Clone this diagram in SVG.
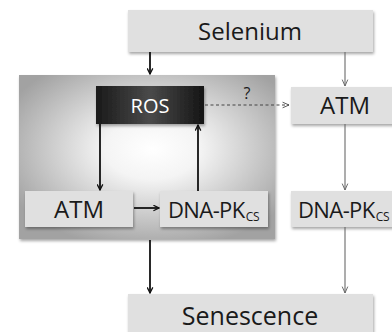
<svg xmlns="http://www.w3.org/2000/svg" width="392" height="332" viewBox="0 0 392 332">
  <defs>
    <radialGradient id="panelFill" cx="0.52" cy="0.45" r="0.62">
      <stop offset="0" stop-color="#ffffff"/>
      <stop offset="0.3" stop-color="#f4f4f4"/>
      <stop offset="1" stop-color="#a2a2a2"/>
    </radialGradient>
    <linearGradient id="rosFill" x1="0" y1="0" x2="1" y2="0">
      <stop offset="0" stop-color="#1a1a1a"/>
      <stop offset="0.5" stop-color="#4a4a4a"/>
      <stop offset="1" stop-color="#151515"/>
    </linearGradient>
    <filter id="shadow" x="-10%" y="-10%" width="120%" height="130%">
      <feDropShadow dx="1" dy="2" stdDeviation="1.5" flood-color="#000" flood-opacity="0.35"/>
    </filter>
    <marker id="headDark" viewBox="0 0 10 10" refX="9" refY="5" markerWidth="7" markerHeight="7" orient="auto" markerUnits="userSpaceOnUse">
      <path d="M1,1 L9,5 L1,9" fill="none" stroke="#111" stroke-width="1.8"/>
    </marker>
    <marker id="headGray" viewBox="0 0 10 10" refX="9" refY="5" markerWidth="8" markerHeight="8" orient="auto" markerUnits="userSpaceOnUse">
      <path d="M1,1.5 L9,5 L1,8.5" fill="none" stroke="#666" stroke-width="1.2"/>
    </marker>
    <marker id="headDash" viewBox="0 0 10 10" refX="9" refY="5" markerWidth="8" markerHeight="8" orient="auto" markerUnits="userSpaceOnUse">
      <path d="M1,1.5 L9,5 L1,8.5" fill="none" stroke="#444" stroke-width="1.1"/>
    </marker>
  </defs>
  <style>
    .box { fill: #e0e0e0; filter: url(#shadow); }
    .lbl { font-family: "Open Sans", "Liberation Sans", sans-serif; fill: #1a1a1a; text-anchor: middle; }
    .pk { font-family: "Open Sans", "Liberation Sans", sans-serif; fill: #1a1a1a; font-size: 22px; letter-spacing: -0.6px; }
    .sub { font-size: 12px; letter-spacing: -0.3px; }
    .dark { stroke: #111; stroke-width: 1.8; fill: none; marker-end: url(#headDark); }
    .gray { stroke: #6a6a6a; stroke-width: 1.1; fill: none; marker-end: url(#headGray); }
    .dash { stroke: #444; stroke-width: 1.1; fill: none; stroke-dasharray: 3 2.5; marker-end: url(#headDash); }
  </style>

  <rect width="392" height="332" fill="#ffffff"/>

  <!-- shaded feedback-loop panel -->
  <g id="loop-panel">
    <rect x="19" y="75" width="256" height="164" fill="url(#panelFill)" filter="url(#shadow)"/>
  </g>

  <g id="selenium">
    <rect class="box" x="128" y="10" width="245" height="42"/>
    <text class="lbl" x="250" y="40" font-size="24">Selenium</text>
  </g>

  <g id="ros">
    <rect x="96" y="86" width="108" height="38" fill="url(#rosFill)" filter="url(#shadow)"/>
    <text class="lbl" x="150" y="113" font-size="20" style="fill:#ffffff">ROS</text>
  </g>

  <g id="atm-loop">
    <rect class="box" x="25" y="191" width="108" height="36"/>
    <text class="lbl" x="79" y="218" font-size="24">ATM</text>
  </g>

  <g id="dnapk-loop">
    <rect class="box" x="160" y="191" width="108" height="36"/>
    <text class="pk" x="168" y="218">DNA-PK<tspan class="sub" dx="1" dy="3">CS</tspan></text>
  </g>

  <g id="atm-direct">
    <rect class="box" x="291" y="87" width="110" height="37"/>
    <text class="lbl" x="345" y="114" font-size="24">ATM</text>
  </g>

  <g id="dnapk-direct">
    <rect class="box" x="291" y="191" width="110" height="36"/>
    <text class="pk" x="298" y="218">DNA-PK<tspan class="sub" dx="1" dy="3">CS</tspan></text>
  </g>

  <g id="senescence">
    <rect class="box" x="128" y="294" width="245" height="45"/>
    <text class="lbl" x="250" y="325" font-size="25">Senescence</text>
  </g>

  <g id="connectors">
    <line class="dark" x1="150" y1="52" x2="150" y2="74"/>
    <line class="dark" x1="100" y1="124" x2="100" y2="190"/>
    <line class="dark" x1="198" y1="191" x2="198" y2="125"/>
    <line class="dark" x1="134" y1="208" x2="159" y2="208"/>
    <line class="dark" x1="150" y1="240" x2="150" y2="293"/>
    <line class="gray" x1="345" y1="52" x2="345" y2="86"/>
    <line class="gray" x1="345" y1="124" x2="345" y2="190"/>
    <line class="gray" x1="345" y1="227" x2="345" y2="293"/>
    <line class="dash" x1="205" y1="105" x2="289" y2="105"/>
    <text class="lbl" x="247" y="99" font-size="16">?</text>
  </g>
</svg>
